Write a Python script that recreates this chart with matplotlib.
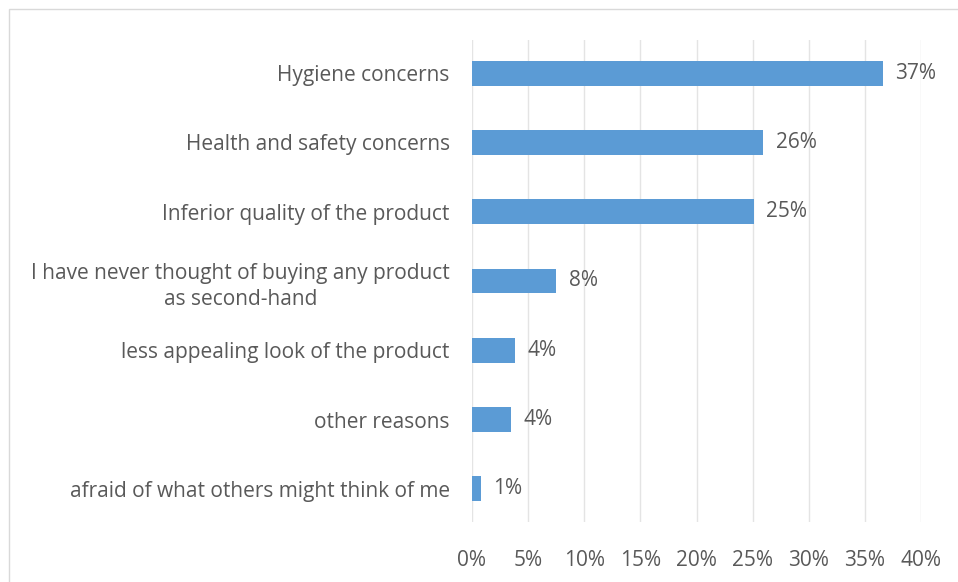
import matplotlib
matplotlib.use('Agg')
import matplotlib.pyplot as plt
from matplotlib.patches import Rectangle

# survey answers, top to bottom
reasons = ['Hygiene concerns',
           'Health and safety concerns',
           'Inferior quality of the product',
           'I have never thought of buying any product\nas second-hand',
           'less appealing look of the product',
           'other reasons',
           'afraid of what others might think of me']
shares = [36.6, 25.95, 25.1, 7.5, 3.8, 3.5, 0.77]
xticks = [0, 5, 10, 15, 20, 25, 30, 35, 40]

plt.rcParams['font.family'] = ['Open Sans', 'DejaVu Sans']
txt = '#595959'
fs = 15

fig = plt.figure(figsize=(9.58, 5.82), dpi=100)
ax = fig.add_axes([472/958, 1-522/582, 449/958, 482/582])

pos = list(range(len(reasons)))
ax.barh(pos, shares, height=0.36, color='#5B9BD5', zorder=3)
for p, v in zip(pos, shares):
    ax.annotate('%d%%' % round(v), (v, p), xytext=(9, 0), textcoords='offset points',
                va='center', ha='left', fontsize=fs, color=txt)

ax.set_xlim(0, 40)
ax.set_ylim(len(reasons) - 0.52, -0.48)
ax.set_xticks(xticks)
ax.set_xticklabels(['%d%%' % t for t in xticks])
ax.set_yticks(pos)
ax.set_yticklabels(reasons, multialignment='center', linespacing=1.35)
ax.tick_params(axis='both', length=0, labelsize=fs, labelcolor=txt)
ax.tick_params(axis='x', pad=20)
ax.tick_params(axis='y', pad=16)
ax.xaxis.grid(True, color='#e4e4e4', linewidth=1, zorder=0)
for s in ax.spines.values():
    s.set_visible(False)

# chart frame
fig.patches.append(Rectangle((9/958, -0.01), 1.0, 1 - 9/582 + 0.01, transform=fig.transFigure,
                             fill=False, edgecolor='#d9d9d9', linewidth=1))

plt.savefig('out.png', dpi=100)
